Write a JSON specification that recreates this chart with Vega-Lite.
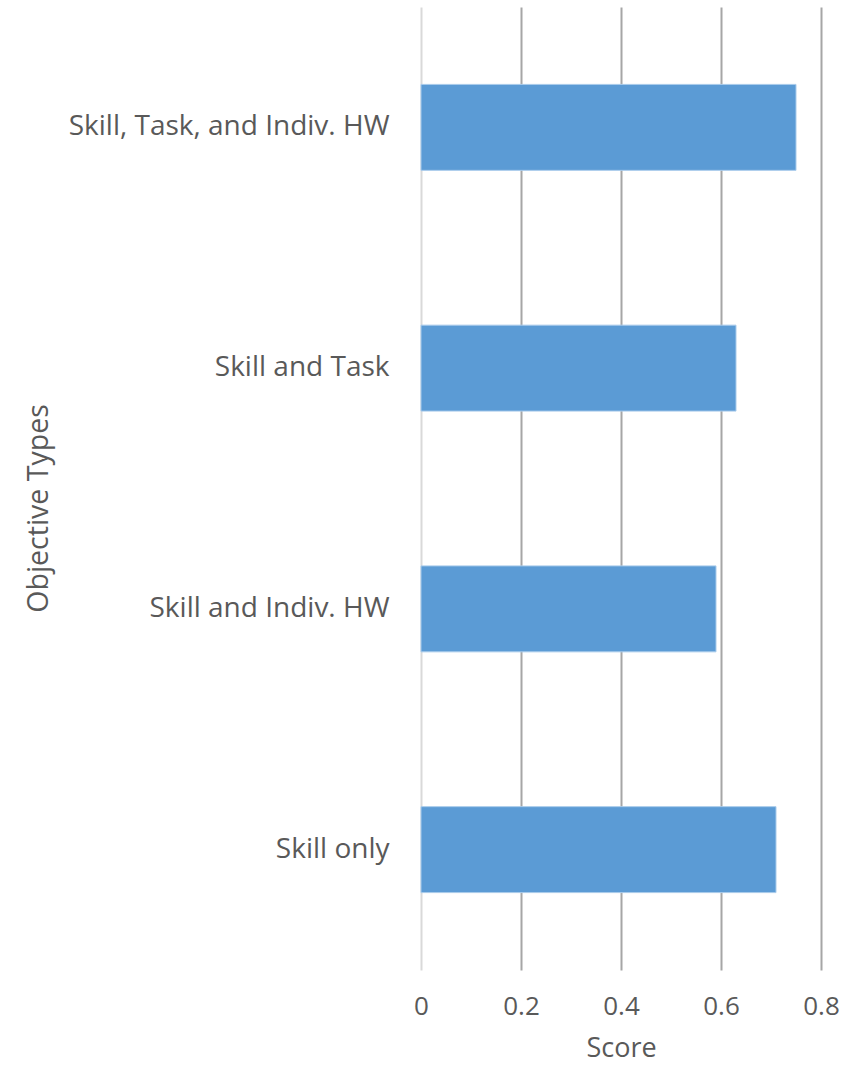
{
  "$schema": "https://vega.github.io/schema/vega-lite/v6.json",
  "autosize": "none",
  "padding": {"left": 421, "top": 7, "right": 32, "bottom": 95},
  "width": 400,
  "height": 963,
  "background": "white",
  "config": {"view": {"stroke": null}, "font": "Open Sans"},
  "data": {"values": [
    {"type": "Skill, Task, and Indiv. HW", "score": 0.75},
    {"type": "Skill and Task", "score": 0.63},
    {"type": "Skill and Indiv. HW", "score": 0.59},
    {"type": "Skill only", "score": 0.71}
  ]},
  "mark": {"type": "bar", "color": "#5b9bd5", "stroke": "#a9cbeb", "strokeWidth": 1},
  "encoding": {
    "y": {
      "field": "type", "type": "nominal", "sort": null,
      "scale": {"paddingInner": 0.643, "paddingOuter": 0.3215},
      "axis": {
        "title": "Objective Types", "titleFont": "Open Sans", "titleFontSize": 28.5, "titleFontWeight": "normal", "titleColor": "#595959", "titlePadding": 168, "titleY": 501,
        "labelFont": "Open Sans", "labelFontSize": 28, "labelColor": "#595959", "labelPadding": 32, "labelLimit": 0,
        "domain": false, "ticks": false, "grid": false
      }
    },
    "x": {
      "field": "score", "type": "quantitative",
      "scale": {"domain": [0, 0.8], "nice": false},
      "axis": {
        "title": "Score", "titleFont": "Open Sans", "titleFontSize": 27, "titleFontWeight": "normal", "titleColor": "#595959", "titlePadding": 16,
        "labelFont": "Open Sans", "labelFontSize": 26, "labelColor": "#595959", "labelPadding": 23, "labelFlush": false,
        "values": [0, 0.2, 0.4, 0.6, 0.8], "format": "~g",
        "domain": false, "ticks": false, "grid": true,
        "gridColor": {"condition": {"test": "datum.value === 0", "value": "#d9d9d9"}, "value": "#a6a6a6"},
        "gridWidth": 2
      }
    }
  }
}
